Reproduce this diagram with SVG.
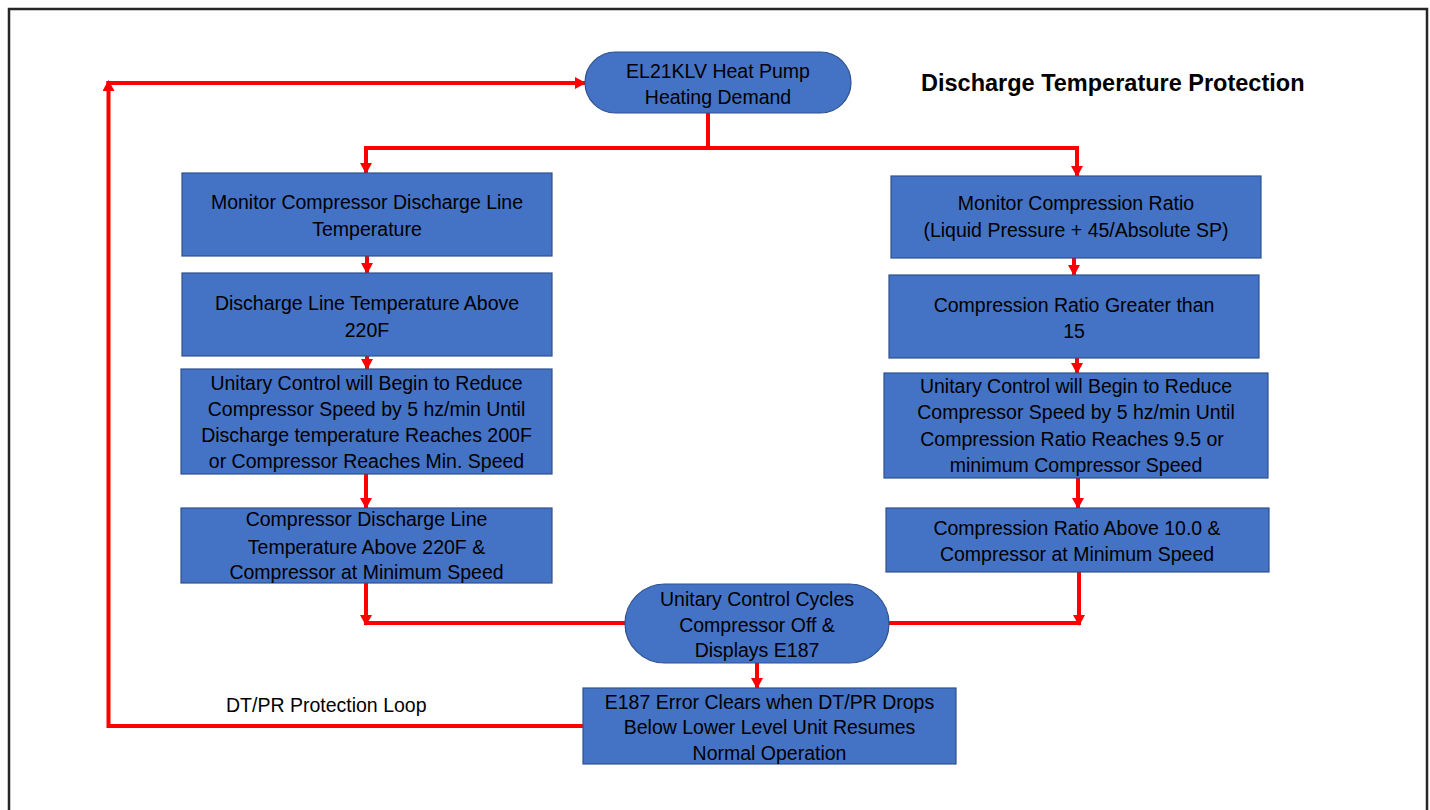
<svg xmlns="http://www.w3.org/2000/svg" width="1430" height="810" viewBox="0 0 1430 810">
<style>
.box{fill:#4472C4;stroke:#2F528F;stroke-width:1.2}
.t{font-family:"Liberation Sans",Arial,sans-serif;font-size:19.5px;fill:#000;text-anchor:middle}
.title{font-family:"Liberation Sans",Arial,sans-serif;font-size:23.5px;font-weight:bold;fill:#000}
.lbl{font-family:"Liberation Sans",Arial,sans-serif;font-size:19.5px;fill:#000}
.c{fill:none;stroke:#FF0000;stroke-width:4}
</style>
<defs>
<marker id="ah" markerUnits="userSpaceOnUse" markerWidth="11" markerHeight="12" refX="10" refY="6" orient="auto">
<path d="M0,0 L11,6 L0,12 z" fill="#FF0000"/>
</marker>
</defs>
<rect x="9" y="9" width="1418" height="830" fill="#fff" stroke="#262626" stroke-width="2.5"/>
<text class="title" x="921" y="91">Discharge Temperature Protection</text>

<g id="connectors">
<path class="c" d="M708,113 V148"/>
<path class="c" d="M366,148 H1077"/>
<path class="c" d="M366,146 V173" marker-end="url(#ah)"/>
<path class="c" d="M1077,146 V176" marker-end="url(#ah)"/>
<path class="c" d="M367,256 V273" marker-end="url(#ah)"/>
<path class="c" d="M367,356 V369" marker-end="url(#ah)"/>
<path class="c" d="M366,474 V508" marker-end="url(#ah)"/>
<path class="c" d="M366,583 V625" marker-end="url(#ah)"/>
<path class="c" d="M366,623 H626"/>
<path class="c" d="M1074,258 V275" marker-end="url(#ah)"/>
<path class="c" d="M1077,358 V373" marker-end="url(#ah)"/>
<path class="c" d="M1078,478 V508" marker-end="url(#ah)"/>
<path class="c" d="M1079,572 V625" marker-end="url(#ah)"/>
<path class="c" d="M888,623 H1081"/>
<path class="c" d="M757,663 V688" marker-end="url(#ah)"/>
<path class="c" d="M583,726 H108.5 V81" marker-end="url(#ah)"/>
<path class="c" d="M106.5,83 H585" marker-end="url(#ah)"/>
<text class="lbl" x="226" y="712">DT/PR Protection Loop</text>
</g>

<g id="start">
<rect class="box" x="585" y="52" width="266" height="61" rx="30.5" ry="30.5"/>
<text class="t" x="718" y="78">EL21KLV Heat Pump</text>
<text class="t" x="718" y="104">Heating Demand</text>
</g>

<g id="l1">
<rect class="box" x="182" y="173" width="370" height="83"/>
<text class="t" x="367" y="209">Monitor Compressor Discharge Line</text>
<text class="t" x="367" y="236">Temperature</text>
</g>
<g id="l2">
<rect class="box" x="182" y="273" width="370" height="83"/>
<text class="t" x="367" y="310">Discharge Line Temperature Above</text>
<text class="t" x="367" y="337">220F</text>
</g>
<g id="l3">
<rect class="box" x="181" y="369" width="371" height="105"/>
<text class="t" x="366.5" y="390">Unitary Control will Begin to Reduce</text>
<text class="t" x="366.5" y="416">Compressor Speed by 5 hz/min Until</text>
<text class="t" x="366.5" y="442">Discharge temperature Reaches 200F</text>
<text class="t" x="366.5" y="468">or Compressor Reaches Min. Speed</text>
</g>
<g id="l4">
<rect class="box" x="181" y="508" width="371" height="75"/>
<text class="t" x="366.5" y="526">Compressor Discharge Line</text>
<text class="t" x="366.5" y="554">Temperature Above 220F &amp;</text>
<text class="t" x="366.5" y="579">Compressor at Minimum Speed</text>
</g>

<g id="r1">
<rect class="box" x="891" y="176" width="370" height="82"/>
<text class="t" x="1076" y="210">Monitor Compression Ratio</text>
<text class="t" x="1076" y="237">(Liquid Pressure + 45/Absolute SP)</text>
</g>
<g id="r2">
<rect class="box" x="889" y="275" width="370" height="83"/>
<text class="t" x="1074" y="312">Compression Ratio Greater than</text>
<text class="t" x="1074" y="338">15</text>
</g>
<g id="r3">
<rect class="box" x="884" y="373" width="384" height="105"/>
<text class="t" x="1076" y="393">Unitary Control will Begin to Reduce</text>
<text class="t" x="1076" y="419">Compressor Speed by 5 hz/min Until</text>
<text class="t" x="1072" y="446">Compression Ratio Reaches 9.5 or</text>
<text class="t" x="1076" y="472">minimum Compressor Speed</text>
</g>
<g id="r4">
<rect class="box" x="886" y="508" width="383" height="64"/>
<text class="t" x="1077" y="535">Compression Ratio Above 10.0 &amp;</text>
<text class="t" x="1077" y="561">Compressor at Minimum Speed</text>
</g>

<g id="cycle">
<rect class="box" x="625" y="584" width="264" height="79" rx="39.5" ry="39.5"/>
<text class="t" x="757" y="606">Unitary Control Cycles</text>
<text class="t" x="757" y="632">Compressor Off &amp;</text>
<text class="t" x="757" y="657">Displays E187</text>
</g>

<g id="clear">
<rect class="box" x="583" y="688" width="373" height="76"/>
<text class="t" x="769.5" y="709">E187 Error Clears when DT/PR Drops</text>
<text class="t" x="769.5" y="734">Below Lower Level Unit Resumes</text>
<text class="t" x="769.5" y="760">Normal Operation</text>
</g>
</svg>
